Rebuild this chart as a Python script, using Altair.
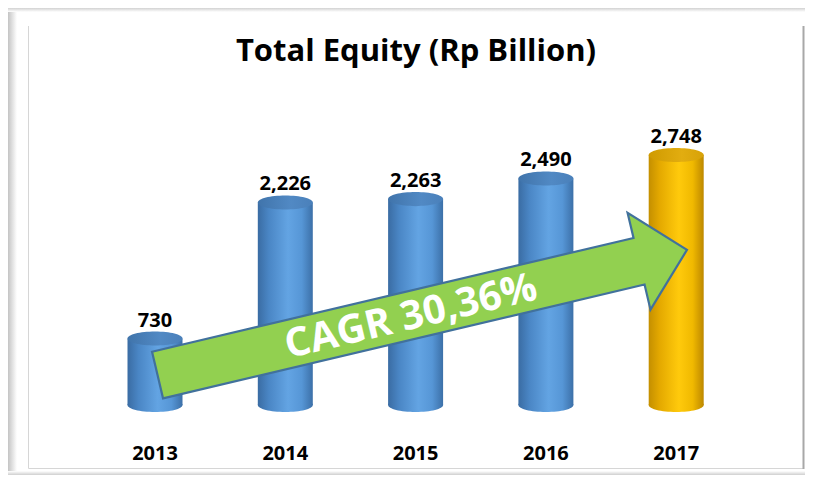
import altair as alt
import pandas as pd

# ---- data ----
years = ["2013", "2014", "2015", "2016", "2017"]
equity = [730, 2226, 2263, 2490, 2748]
highlight = [False, False, False, False, True]
title_text = "Total Equity (Rp Billion)"
cagr_text = "CAGR 30,36%"

df = pd.DataFrame({"year": years, "equity": equity, "hl": highlight})
one = pd.DataFrame({"k": [0]})

FONT = "Open Sans"
W, H = 797, 467

x_scale = alt.Scale(domain=years, range=[81.85, 733.35], paddingInner=0.578, paddingOuter=0.289)
y_scale = alt.Scale(domain=[0, 3000], range=[397, 124.06])
X = alt.X("year:N", scale=x_scale, axis=None)
Y = alt.Y("equity:Q", scale=y_scale, axis=None)
Y0 = alt.Y("zero:Q", scale=y_scale, axis=None)


def lin(stops, x1=0, x2=1, y1=0, y2=0):
    return {"gradient": "linear", "x1": x1, "x2": x2, "y1": y1, "y2": y2,
            "stops": [{"offset": o, "color": c} for o, c in stops]}


blue_body = lin([(0, "#3a6ca3"), (0.2, "#4a86c5"), (0.55, "#63a4e3"), (0.8, "#5696d6"), (1, "#3c70a8")])
blue_cap = lin([(0, "#4074ab"), (0.6, "#5189c4"), (1, "#4a80ba")])
gold_body = lin([(0, "#c48f00"), (0.2, "#e4a900"), (0.55, "#ffca0c"), (0.8, "#f0b900"), (1, "#bd8800")])
gold_cap = lin([(0, "#cf9a00"), (0.6, "#e2ad10"), (1, "#d7a208")])

ELLIPSE = "M-1,0 A1,0.255 0 1,0 1,0 A1,0.255 0 1,0 -1,0 Z"
ARROW = ("M-1,-0.088 L0.819,-0.088 L0.819,-0.183 L1,0 L0.819,0.183 "
         "L0.819,0.088 L-1,0.088 Z")

base = alt.Chart(df).transform_calculate(zero="0")

layers = []

# frame decoration
layers.append(alt.Chart(one).mark_rect(fill=lin([(0, "#c4c4c4"), (1, "#ffffff")])).encode(
    x=alt.value(0), x2=alt.value(9), y=alt.value(0), y2=alt.value(H)))
layers.append(alt.Chart(one).mark_rect(fill=lin([(0, "#d2d2d2"), (1, "#ffffff")], x1=0, x2=0, y1=0, y2=1)).encode(
    x=alt.value(0), x2=alt.value(W), y=alt.value(0), y2=alt.value(4)))
layers.append(alt.Chart(one).mark_rect(fill=lin([(0, "#ffffff"), (1, "#cfcfcf")], x1=0, x2=0, y1=0, y2=1)).encode(
    x=alt.value(0), x2=alt.value(W), y=alt.value(463), y2=alt.value(H)))
layers.append(alt.Chart(one).mark_rule(color="#d6d6d6", strokeWidth=1).encode(
    x=alt.value(20.5), y=alt.value(18), y2=alt.value(460.5)))
layers.append(alt.Chart(one).mark_rule(color="#d6d6d6", strokeWidth=1).encode(
    x=alt.value(20.5), x2=alt.value(796), y=alt.value(460.5)))
layers.append(alt.Chart(one).mark_rule(color="#a8a8a8", strokeWidth=2).encode(
    x=alt.value(795.5), y=alt.value(18), y2=alt.value(461)))

# cylinders
for flag, body, cap in [(False, blue_body, blue_cap), (True, gold_body, gold_cap)]:
    sub = base.transform_filter(alt.datum.hl == flag)
    layers.append(sub.mark_bar(fill=body, opacity=1).encode(x=X, y=Y, y2=alt.Y2("zero:Q")))
    layers.append(sub.mark_point(shape=ELLIPSE, size=3025, filled=True, fill=body, opacity=1,
                                 strokeWidth=0).encode(x=X, y=Y0))
    layers.append(sub.mark_point(shape=ELLIPSE, size=3025, filled=True, fill=cap, opacity=1,
                                 strokeWidth=0).encode(x=X, y=Y))

# CAGR arrow annotation
layers.append(alt.Chart(one).mark_point(shape=ARROW, size=544 ** 2, filled=True, fill="#92d050",
                                         stroke="#41719c", strokeWidth=2.2, opacity=1, angle=346.7).encode(
    x=alt.value(414.25), y=alt.value(304.5)))
layers.append(alt.Chart(pd.DataFrame({"t": [cagr_text]})).mark_text(
    font=FONT, fontWeight="bold", fontSize=40, color="white", angle=346.7,
    align="center", baseline="middle").encode(
    x=alt.value(403), y=alt.value(309), text="t:N"))

# value labels
layers.append(base.mark_text(font=FONT, fontWeight="bold", fontSize=20, color="black",
                             baseline="alphabetic", dy=-12).encode(
    x=X, y=Y, text=alt.Text("equity:Q", format=",")))

# year labels
layers.append(base.mark_text(font=FONT, fontWeight="bold", fontSize=20, color="black",
                             baseline="alphabetic").encode(
    x=X, y=alt.value(452), text="year:N"))

# title
layers.append(alt.Chart(pd.DataFrame({"t": [title_text]})).mark_text(
    font=FONT, fontWeight="bold", fontSize=31, color="black", align="center",
    baseline="alphabetic").encode(x=alt.value(408), y=alt.value(53), text="t:N"))

chart = alt.layer(*layers).properties(
    width=W, height=H, padding=0,
    autosize=alt.AutoSizeParams(type="none"),
    background="white",
).configure_view(stroke=None)

chart.save("out.html", embed_options={"renderer": "svg", "actions": False})
